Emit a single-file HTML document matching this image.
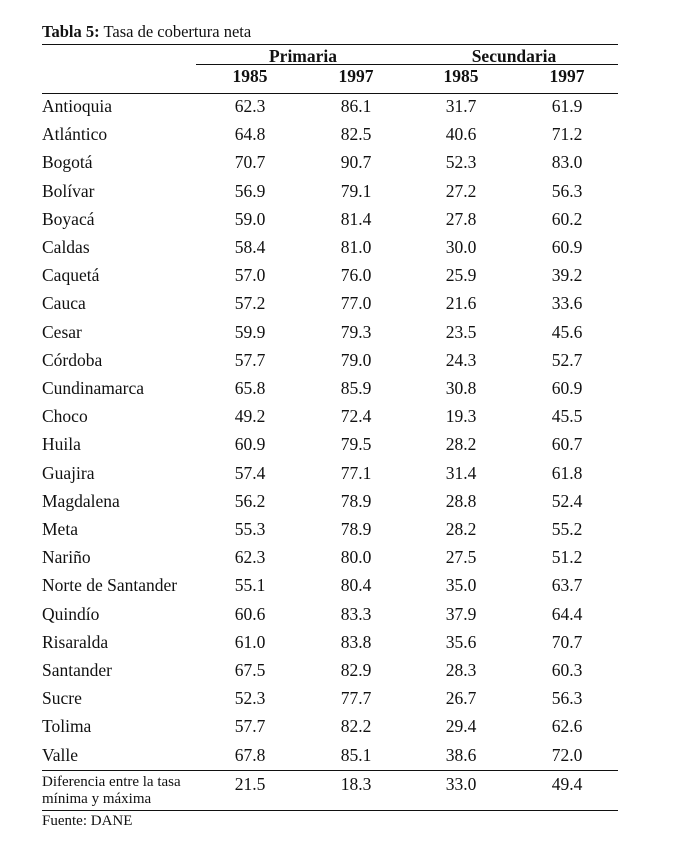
<!DOCTYPE html>
<html><head><meta charset="utf-8">
<style>
body{margin:0;background:#fff;width:685px;height:848px;position:relative;overflow:hidden;font-family:"Liberation Serif",serif;color:#111}
.t{position:absolute;white-space:nowrap;font-size:17.5px;line-height:20px}
.c{transform:translateX(-50%)}
.b{font-weight:bold}
.ln{position:absolute;height:1.3px;background:#111}
</style></head><body>
<div class="t" style="left:42px;top:22px;font-size:16.5px"><b>Tabla 5:</b> Tasa de cobertura neta</div>
<div class="ln" style="left:42px;top:44px;width:576px"></div>
<div class="t b c" style="left:303px;top:46px">Primaria</div>
<div class="t b c" style="left:514px;top:46px">Secundaria</div>
<div class="ln" style="left:196px;top:64px;width:422px"></div>
<div class="t b c" style="left:250px;top:66px">1985</div>
<div class="t b c" style="left:356px;top:66px">1997</div>
<div class="t b c" style="left:461px;top:66px">1985</div>
<div class="t b c" style="left:567px;top:66px">1997</div>
<div class="ln" style="left:42px;top:93px;width:576px"></div>
<div id="rows"></div>
<div class="ln" style="left:42px;top:770px;width:576px"></div>
<div class="t" style="left:42px;top:774px;font-size:15px;line-height:17px">Diferencia entre la tasa<br>mínima y máxima</div>
<div class="t c" style="left:250px;top:774px">21.5</div>
<div class="t c" style="left:356px;top:774px">18.3</div>
<div class="t c" style="left:461px;top:774px">33.0</div>
<div class="t c" style="left:567px;top:774px">49.4</div>
<div class="ln" style="left:42px;top:810px;width:576px"></div>
<div class="t" style="left:42px;top:811px;font-size:15px">Fuente: DANE</div>
<script>
const regions=["Antioquia","Atlántico","Bogotá","Bolívar","Boyacá","Caldas","Caquetá","Cauca","Cesar","Córdoba","Cundinamarca","Choco","Huila","Guajira","Magdalena","Meta","Nariño","Norte de Santander","Quindío","Risaralda","Santander","Sucre","Tolima","Valle"];
const prim1985=["62.3","64.8","70.7","56.9","59.0","58.4","57.0","57.2","59.9","57.7","65.8","49.2","60.9","57.4","56.2","55.3","62.3","55.1","60.6","61.0","67.5","52.3","57.7","67.8"];
const prim1997=["86.1","82.5","90.7","79.1","81.4","81.0","76.0","77.0","79.3","79.0","85.9","72.4","79.5","77.1","78.9","78.9","80.0","80.4","83.3","83.8","82.9","77.7","82.2","85.1"];
const sec1985=["31.7","40.6","52.3","27.2","27.8","30.0","25.9","21.6","23.5","24.3","30.8","19.3","28.2","31.4","28.8","28.2","27.5","35.0","37.9","35.6","28.3","26.7","29.4","38.6"];
const sec1997=["61.9","71.2","83.0","56.3","60.2","60.9","39.2","33.6","45.6","52.7","60.9","45.5","60.7","61.8","52.4","55.2","51.2","63.7","64.4","70.7","60.3","56.3","62.6","72.0"];
const host=document.getElementById('rows');
const cols=[[250,prim1985,'prim-1985'],[356,prim1997,'prim-1997'],[461,sec1985,'sec-1985'],[567,sec1997,'sec-1997']];
regions.forEach((r,i)=>{
  const top=96+i*28.2;
  const d=document.createElement('div');
  d.className='t';d.style.left='42px';d.style.top=top+'px';d.textContent=r;
  
  
  host.appendChild(d);
  cols.forEach(([x,arr,n])=>{
    const c=document.createElement('div');
    c.className='t c';c.style.left=x+'px';c.style.top=top+'px';c.textContent=arr[i];
    
    
    host.appendChild(c);
  });
});
</script>
</body></html>
